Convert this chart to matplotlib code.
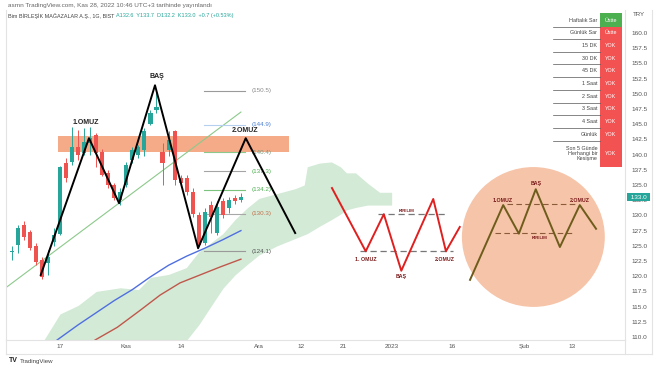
import numpy as np
import matplotlib.pyplot as plt
from matplotlib.patches import Rectangle, Ellipse
from matplotlib.transforms import blended_transform_factory

plt.rcParams['font.family'] = ['Liberation Sans', 'DejaVu Sans']

W, H = 654, 366

# --- daily candles, bar index 0 = 17 Eki 2022 -------------------------------
first_idx = -8
opens  = [124.0, 125.1, 128.4, 127.2, 124.9, 122.7, 122.1, 125.7, 127.0, 138.6,
          138.8, 141.3, 140.2, 141.9, 143.2, 140.5, 136.9, 135.0, 132.5, 135.0,
          139.1, 140.0, 140.8, 145.1, 147.3, 140.5, 140.8, 143.8, 136.1, 136.1,
          133.9, 130.1, 125.4, 131.7, 127.1, 132.3, 131.2, 132.8, 132.6]
highs  = [124.9, 128.4, 129.0, 127.6, 125.4, 123.2, 124.3, 127.9, 138.2, 139.4,
          144.6, 144.0, 144.3, 144.6, 143.5, 141.0, 137.5, 135.3, 134.5, 138.8,
          141.3, 141.6, 144.3, 147.3, 150.4, 141.9, 143.8, 144.0, 136.6, 136.6,
          134.5, 130.6, 131.2, 132.3, 132.3, 132.8, 133.0, 133.4, 133.7]
lows   = [122.7, 123.8, 126.0, 124.3, 121.8, 119.6, 120.2, 124.9, 126.8, 135.5,
          138.3, 139.1, 139.9, 140.0, 138.0, 136.4, 134.5, 132.5, 131.7, 134.7,
          138.6, 139.4, 139.7, 144.9, 146.8, 135.0, 139.7, 135.0, 134.7, 133.4,
          129.8, 124.9, 125.1, 127.1, 126.8, 129.5, 130.4, 131.9, 132.2]
closes = [124.1, 127.9, 126.5, 124.6, 122.4, 119.9, 123.2, 126.8, 138.0, 136.1,
          141.3, 140.0, 142.1, 142.7, 140.2, 136.6, 135.0, 132.8, 133.9, 138.3,
          140.8, 141.2, 143.8, 146.8, 147.9, 138.6, 142.4, 135.8, 135.3, 133.9,
          130.3, 125.1, 130.6, 129.8, 131.4, 130.1, 132.5, 132.3, 133.0]

# x-axis labels (bar index positions)
tick_pos = [0, 11, 20, 33, 40, 47, 55, 65, 77, 85]
tick_lbl = ['17', 'Kas', '14', 'Ara', '12', '21', '2023', '16', 'Şub', '13']
price_ticks = np.arange(110.0, 160.1, 2.5)
last_price = 133.0

# ichimoku cloud
cloud_x   = [-3, 0, 3, 6, 10, 13, 15, 18, 20.9, 21, 23, 25, 27, 29, 31, 33, 36, 39,
             40.5, 41, 43, 45, 46.5, 47.5, 49, 51, 53, 55]
cloud_top = [109.0, 113.8, 115.2, 117.5, 118.1, 117.8, 119.8, 120.3, 121.4, 121.5,
             124.0, 125.5, 127.0, 129.3, 131.2, 132.8, 133.6, 134.4, 135.0, 138.0,
             138.6, 138.8, 138.0, 137.0, 137.0, 135.3, 133.8, 133.8]
cloud_bot = [100, 100, 100, 100, 100, 100, 100, 100, 100, 109.5,
             112.0, 115.0, 118.0, 120.2, 121.9, 123.5, 125.0, 126.2, 126.8, 127.0,
             128.2, 129.3, 130.2, 130.9, 131.3, 131.7, 131.7, 131.7]

# moving averages
ma_blue_x = [-0.5, 3, 6, 9, 12, 15, 18, 21, 24, 27, 30]
ma_blue_y = [109.5, 112.0, 114.0, 116.0, 117.8, 119.9, 121.8, 123.3, 124.6, 126.0, 127.5]
ma_red_x = [5.8, 9.5, 13.3, 16.6, 19.9, 23.2, 26.5, 30]
ma_red_y = [109.5, 111.6, 114.4, 116.9, 118.9, 120.2, 121.5, 122.8]

# trend line
trend_x = [-9.0, 30.0]
trend_y = [118.1, 147.0]

# resistance zone
zone_x = (-0.3, 38.0)
zone_y = (140.4, 143.0)

# fibonacci levels
fib_levels = [150.5, 144.9, 140.4, 137.3, 134.2, 130.3, 124.1]
fib_line_c = ['#9a9a9a', '#b5d0ee', '#8cc88c', '#a5a5a5', '#7cc47e', '#a8a8a8', '#9a9a9a']
fib_text_c = ['#8a8a8a', '#4a7fd0', '#7a9a7a', '#4caf50', '#4caf50', '#c0704d', '#555555']
fib_x = (23.9, 30.7)

# head & shoulders zigzag on price
hs_x = [-3.2, 4.8, 9.8, 15.75, 22.9, 30.8, 39.0]
hs_y = [120.2, 142.7, 132.0, 151.4, 124.6, 142.7, 127.1]
hs_lbl = ['1.OMUZ', 'BAŞ', '2.OMUZ']
hs_lbl_x = [4.3, 16.1, 30.6]
hs_lbl_y = [145.2, 152.8, 143.9]

# inverse pattern sketch (red)
inv_x = [45.1, 50.7, 53.7, 56.6, 61.9, 64.0, 66.3]
inv_y = [134.5, 124.1, 130.2, 120.9, 132.7, 124.1, 128.1]
inv_lbl = ['KIRILIM', '1. OMUZ', 'BAŞ', '2.OMUZ']
inv_lbl_x = [57.4, 50.7, 56.6, 63.8]
inv_lbl_y = [130.7, 122.8, 119.9, 122.8]

# pattern sketch inside circle (olive)
sk_x = [68.0, 73.5, 76.1, 78.9, 82.9, 86.2, 88.9]
sk_y = [119.4, 131.7, 127.0, 134.3, 124.8, 131.7, 127.8]
sk_lbl = ['1.OMUZ', 'BAŞ', '2.OMUZ', 'KIRILIM']
sk_lbl_x = [73.5, 78.9, 86.2, 79.6]
sk_lbl_y = [132.5, 135.3, 132.5, 126.3]

# signal table
tbl_rows = ['Haftalık Sar', 'Günlük Sar', '15 DK', '30 DK', '45 DK', '1 Saat',
            '2 Saat', '3 Saat', '4 Saat', 'Günlük', 'Son 5 Günde\nHerhangi bir\nKesişme']
tbl_vals = ['Üstte', 'Üstte', 'YOK', 'YOK', 'YOK', 'YOK', 'YOK', 'YOK', 'YOK', 'YOK', 'YOK']
tbl_green = [True] + [False] * 10

UP, DOWN = '#26a69a', '#ef5350'

fig = plt.figure(figsize=(W / 100, H / 100), dpi=100)
ax = fig.add_axes([6 / W, 26 / H, 619 / W, 330 / H])
ax.set_xlim(-8.96, 93.7)
ax.set_ylim(109.51, 163.78)

# cloud + averages
ax.fill_between(cloud_x, cloud_bot, cloud_top, color='#d3ead6', lw=0, zorder=1)
ax.plot(trend_x, trend_y, color='#8cc98b', lw=0.8, zorder=2)
ax.plot(ma_blue_x, ma_blue_y, color='#4f6fe0', lw=1.0, zorder=2)
ax.plot(ma_red_x, ma_red_y, color='#c0574b', lw=1.0, zorder=2)

# zone
ax.add_patch(Rectangle((zone_x[0], zone_y[0]), zone_x[1] - zone_x[0], zone_y[1] - zone_y[0],
                       color='#f5ab88', lw=0, zorder=1.5))

# candles
for i in range(len(opens)):
    x = first_idx + i
    o, h, l, c = opens[i], highs[i], lows[i], closes[i]
    col = UP if c >= o else DOWN
    ax.vlines(x, l, h, color=col, lw=0.7, zorder=3)
    ax.bar(x, max(abs(c - o), 0.15), bottom=min(o, c), width=0.68, color=col, lw=0, zorder=3)

# fib levels
for lvl, lc, tc in zip(fib_levels, fib_line_c, fib_text_c):
    ax.plot(fib_x, [lvl, lvl], color=lc, lw=0.8, zorder=2)
    ax.text(fib_x[1] + 1.0, lvl, '(%.1f)' % lvl, color=tc, fontsize=4.5, va='center', zorder=4)

# head & shoulders on price
ax.plot(hs_x, hs_y, color='black', lw=1.4, zorder=5)
for t, x, y in zip(hs_lbl, hs_lbl_x, hs_lbl_y):
    ax.text(x, y, t, fontsize=5, fontweight='bold', color='#222222', ha='center', va='center', zorder=6)

# red sketch
ax.plot([52.7, 64.3], [inv_y[2], inv_y[2]], color='#777777', lw=0.9, ls=(0, (5, 3)), zorder=4)
ax.plot([49.8, 65.2], [inv_y[1], inv_y[1]], color='#777777', lw=0.9, ls=(0, (5, 3)), zorder=4)
ax.plot(inv_x, inv_y, color='#e01f1f', lw=1.4, zorder=5)
for t, x, y in zip(inv_lbl, inv_lbl_x, inv_lbl_y):
    ax.text(x, y, t, fontsize=3.2 if t == 'KIRILIM' else 3.8, fontweight='bold',
            color='#7a1a1a', ha='center', va='center', zorder=6)

# circle + olive sketch
ax.add_patch(Ellipse((78.5, 126.45), 23.7, 23.0, color='#f6c4a8', lw=0, zorder=1))
ax.plot([74.1, 85.4], [131.9, 131.9], color='#8a5a3a', lw=0.8, ls=(0, (5, 3)), zorder=4)
ax.plot([72.1, 85.4], [127.1, 127.1], color='#8a5a3a', lw=0.8, ls=(0, (5, 3)), zorder=4)
ax.plot(sk_x, sk_y, color='#6e5c1c', lw=1.4, zorder=5)
for t, x, y in zip(sk_lbl, sk_lbl_x, sk_lbl_y):
    ax.text(x, y, t, fontsize=3.2 if t == 'KIRILIM' else 3.8, fontweight='bold',
            color='#7a1a1a', ha='center', va='center', zorder=6)

# axes styling
ax.spines['top'].set_visible(False)
for s in ['left', 'right', 'bottom']:
    ax.spines[s].set_color('#e3e3e3')
    ax.spines[s].set_linewidth(0.8)
ax.yaxis.tick_right()
ax.set_yticks(price_ticks)
ax.set_yticklabels(['%.1f' % p for p in price_ticks])
ax.tick_params(axis='y', length=0, pad=5, labelsize=4.6, labelcolor='#555555')
ax.set_xticks(tick_pos)
ax.set_xticklabels(tick_lbl)
ax.tick_params(axis='x', length=0, pad=3, labelsize=4.6, labelcolor='#555555')

# last price tag
tr = blended_transform_factory(ax.transAxes, ax.transData)
ax.text(1.0065, last_price, ' %.1f ' % last_price, transform=tr, fontsize=4.6, color='white',
        va='center', ha='left', clip_on=False, zorder=7,
        bbox=dict(boxstyle='square,pad=0.25', fc=UP, ec='none'))

# header texts
def fx(px):
    return px / W

def fy(py):
    return 1 - py / H

fig.text(fx(8), fy(5), 'asmn TradingView.com, Kas 28, 2022 10:46 UTC+3 tarihinde yayınlandı',
         fontsize=4.6, color='#666666', va='center')
fig.text(fx(8), fy(16), 'Bim BİRLEŞİK MAĞAZALAR A.Ş., 1G, BIST', fontsize=3.9, color='#444444', va='center')
fig.text(fx(116), fy(16), 'A132.6  Y133.7  D132.2  K133.0  +0.7 (+0.53%)', fontsize=4.0,
         color=UP, va='center')
fig.text(fx(633), fy(15), 'TRY', fontsize=4.4, color='#555555', va='center')
fig.text(fx(9), fy(361), 'TV', fontsize=5, fontweight='bold', color='#222222', va='center')
fig.text(fx(20), fy(361), 'TradingView', fontsize=4.4, color='#444444', va='center')

# frame under x axis
fig.add_artist(plt.Line2D([fx(6), fx(652)], [fy(354), fy(354)], color='#e3e3e3', lw=0.8))
fig.add_artist(plt.Line2D([fx(652), fx(652)], [fy(10), fy(354)], color='#e3e3e3', lw=0.8))
fig.add_artist(plt.Line2D([fx(6), fx(6)], [fy(340), fy(354)], color='#e3e3e3', lw=0.8))
fig.add_artist(plt.Line2D([fx(625), fx(625)], [fy(340), fy(354)], color='#e3e3e3', lw=0.8))

# signal table
tab = fig.add_axes([fx(553), fy(167), 69 / W, 154 / H])
tab.set_xlim(0, 69)
tab.set_ylim(154, 0)
tab.axis('off')
bounds = [0, 14, 26, 39, 51, 64, 77, 90, 102, 115, 128, 154]
for r in range(len(tbl_rows)):
    y0, y1 = bounds[r], bounds[r + 1]
    tab.add_patch(Rectangle((0, y0), 47, y1 - y0, fc='white', ec='none'))
    tab.add_patch(Rectangle((47, y0), 22, y1 - y0, fc='#4caf50' if tbl_green[r] else '#f25252', ec='none'))
    tab.text(44.5, (y0 + y1) / 2, tbl_rows[r], fontsize=3.9, color='#444444', ha='right', va='center',
             linespacing=1.0)
    tab.text(58, (y0 + y1) / 2, tbl_vals[r], fontsize=3.9, color='white', ha='center', va='center')
    if r > 0:
        tab.plot([0, 47], [y0, y0], color='#555555', lw=0.5)

fig.savefig('out.png', dpi=100)
